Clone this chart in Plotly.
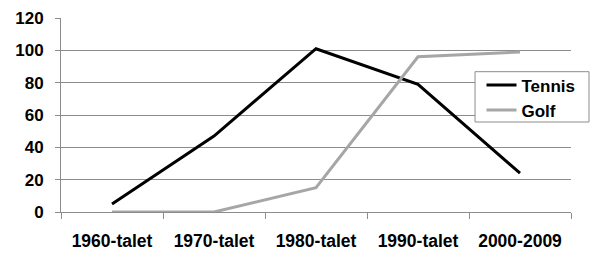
import plotly.graph_objects as go

categories = ["1960-talet", "1970-talet", "1980-talet", "1990-talet", "2000-2009"]
tennis = [5, 47, 101, 79, 24]
golf = [0, 0, 15, 96, 99]
y_ticks = [0, 20, 40, 60, 80, 100, 120]

FONT = "Liberation Sans, Arial, sans-serif"
GRID = "#8c8c8c"

fig = go.Figure()
fig.add_trace(go.Scatter(x=categories, y=tennis, name="Tennis", mode="lines",
                         line=dict(color="#000000", width=3)))
fig.add_trace(go.Scatter(x=categories, y=golf, name="Golf", mode="lines",
                         line=dict(color="#a6a6a6", width=3)))

# legend frame drawn as a shape so its size matches the original
fig.add_shape(type="rect", xref="paper", yref="paper",
              x0=0.8118, x1=1.0353, y0=0.4639, y1=0.7232,
              line=dict(color=GRID, width=1), fillcolor="white", layer="above")

fig.update_layout(
    width=600, height=256,
    margin=dict(l=61, r=29, t=18, b=44, autoexpand=False),
    paper_bgcolor="white", plot_bgcolor="white",
    font=dict(family=FONT, size=17, color="#000000"),
    showlegend=True,
    legend=dict(x=0.8245, y=0.745, xanchor="left", yanchor="top",
                borderwidth=0, bgcolor="rgba(0,0,0,0)",
                font=dict(family=FONT, size=17, color="#000000", weight="bold"),
                tracegroupgap=0, itemwidth=30),
    xaxis=dict(type="category", range=[-0.5, 4.5], showgrid=False, automargin=False,
               showline=True, linecolor=GRID, linewidth=1,
               ticks="outside", tickson="boundaries", ticklen=6, tickcolor=GRID,
               tickfont=dict(family=FONT, size=17.5, weight="bold"),
               ticklabelstandoff=13, zeroline=False),
    yaxis=dict(range=[0, 120], tickvals=y_ticks, showgrid=True, gridcolor=GRID,
               gridwidth=1, showline=True, linecolor=GRID, linewidth=1, automargin=False,
               ticks="outside", ticklen=5, tickcolor=GRID,
               tickfont=dict(family=FONT, size=17, weight="bold"),
               ticklabelstandoff=8, zeroline=False),
)

fig.write_html("out.html")
